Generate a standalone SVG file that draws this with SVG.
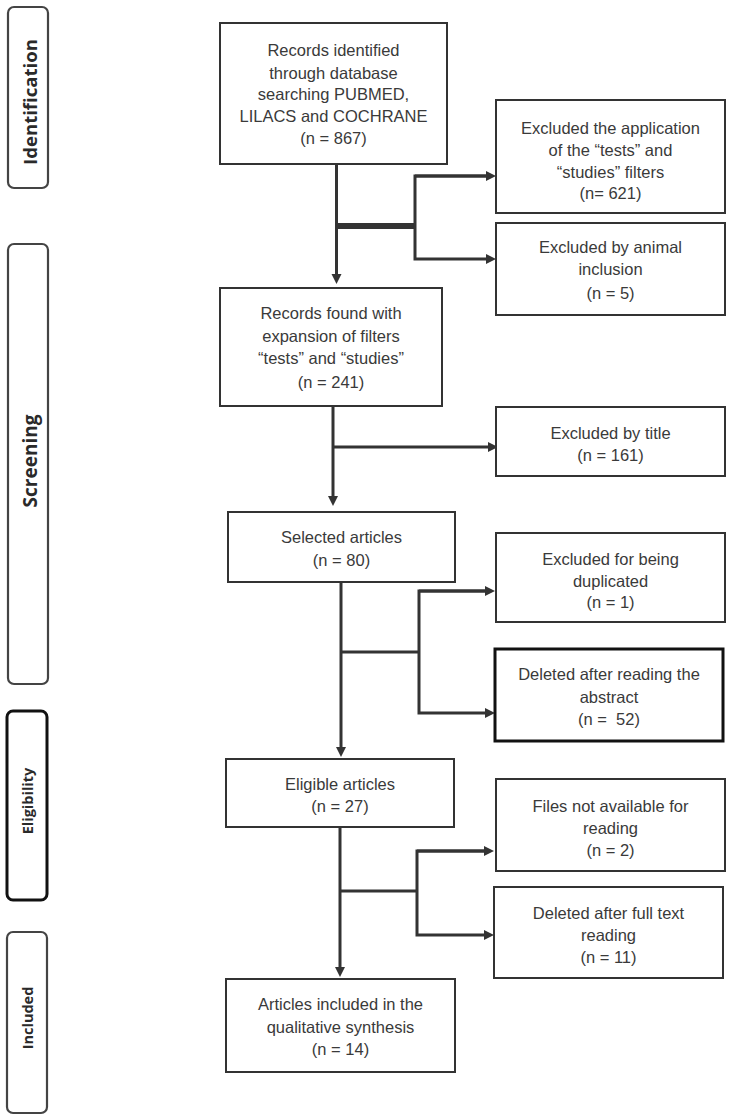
<svg xmlns="http://www.w3.org/2000/svg" width="731" height="1117" viewBox="0 0 731 1117">
<style>
.box{fill:#fff;stroke:#333;stroke-width:2}
.boxk{fill:#fff;stroke:#111;stroke-width:3}
.side{fill:#fff;stroke:#444;stroke-width:2.2}
.sidek{fill:#fff;stroke:#111;stroke-width:3}
.t{font-family:"Liberation Sans",Arial,sans-serif;font-size:16.5px;fill:#3a3a3a;text-anchor:middle}
.lbl{font-family:"Open Sans","Liberation Sans",sans-serif;font-weight:700;fill:#2a2a2a;text-anchor:middle}
.c{fill:none;stroke:#333;stroke-width:3}
</style>
<defs>
<marker id="ah" markerUnits="userSpaceOnUse" markerWidth="11" markerHeight="11" refX="1" refY="5" orient="auto">
<path d="M0,0 L10,5 L0,10 z" fill="#333"/>
</marker>
</defs>
<g id="sidebars">
<g id="side-identification"><rect class="side" x="8" y="7" width="40" height="181" rx="6"/><text class="lbl" font-size="18.6" transform="translate(30,102) rotate(-90)" dy="6.5">Identification</text></g>
<g id="side-screening"><rect class="side" x="8" y="244" width="40" height="440" rx="6"/><text class="lbl" font-size="19" transform="translate(30,461) rotate(-90)" dy="6.5">Screening</text></g>
<g id="side-eligibility"><rect class="sidek" x="7" y="711" width="40" height="189" rx="6"/><text class="lbl" font-size="14.5" transform="translate(28,801) rotate(-90)" dy="5">Eligibility</text></g>
<g id="side-included"><rect class="side" x="7" y="932" width="40" height="181" rx="6"/><text class="lbl" font-size="14.5" transform="translate(28,1018) rotate(-90)" dy="5">Included</text></g>
</g>
<g id="connectors">
<line class="c" x1="336.5" y1="164" x2="336.5" y2="275" marker-end="url(#ah)"/>
<line x1="336.5" y1="226" x2="416" y2="226" stroke="#333" stroke-width="6"/>
<polyline class="c" points="487,176 415,176 415,259 487,259" marker-end="url(#ah)" marker-start="none"/>
<line class="c" x1="415" y1="176" x2="487" y2="176" marker-end="url(#ah)"/>
<line class="c" x1="333" y1="406" x2="333" y2="497" marker-end="url(#ah)"/>
<line class="c" x1="333" y1="447" x2="489" y2="447" marker-end="url(#ah)"/>
<line class="c" x1="341" y1="582" x2="341" y2="748" marker-end="url(#ah)"/>
<line class="c" x1="341" y1="652" x2="419" y2="652"/>
<polyline class="c" points="486,591 419,591 419,713 486,713" marker-end="url(#ah)"/>
<line class="c" x1="419" y1="591" x2="486" y2="591" marker-end="url(#ah)"/>
<line class="c" x1="340" y1="827" x2="340" y2="968" marker-end="url(#ah)"/>
<line class="c" x1="340" y1="891" x2="417" y2="891"/>
<polyline class="c" points="485,851 417,851 417,935 485,935" marker-end="url(#ah)"/>
<line class="c" x1="417" y1="851" x2="485" y2="851" marker-end="url(#ah)"/>
</g>
<g id="n1"><rect class="box" x="220" y="23" width="227" height="141"/>
<text class="t" x="333.5" y="56">Records identified</text>
<text class="t" x="333.5" y="78.5">through database</text>
<text class="t" x="333.5" y="100">searching PUBMED,</text>
<text class="t" x="333.5" y="122">LILACS and COCHRANE</text>
<text class="t" x="333.5" y="144">(n = 867)</text></g>
<g id="nA"><rect class="box" x="496" y="100" width="229" height="113"/>
<text class="t" x="610.5" y="134">Excluded the application</text>
<text class="t" x="610.5" y="156">of the “tests” and</text>
<text class="t" x="610.5" y="178">“studies” filters</text>
<text class="t" x="610.5" y="199">(n= 621)</text></g>
<g id="nB"><rect class="box" x="496" y="223" width="229" height="92"/>
<text class="t" x="610.5" y="253">Excluded by animal</text>
<text class="t" x="610.5" y="275">inclusion</text>
<text class="t" x="610.5" y="298.5">(n = 5)</text></g>
<g id="n2"><rect class="box" x="220" y="288" width="222" height="118"/>
<text class="t" x="331" y="319">Records found with</text>
<text class="t" x="331" y="342">expansion of filters</text>
<text class="t" x="331" y="364">“tests” and “studies”</text>
<text class="t" x="331" y="388">(n = 241)</text></g>
<g id="nC"><rect class="box" x="496" y="407" width="229" height="69"/>
<text class="t" x="610.5" y="439">Excluded by title</text>
<text class="t" x="610.5" y="461">(n = 161)</text></g>
<g id="n3"><rect class="box" x="228" y="512" width="227" height="70"/>
<text class="t" x="341.5" y="543">Selected articles</text>
<text class="t" x="341.5" y="566">(n = 80)</text></g>
<g id="nD"><rect class="box" x="496" y="533" width="229" height="89"/>
<text class="t" x="610.5" y="565">Excluded for being</text>
<text class="t" x="610.5" y="587">duplicated</text>
<text class="t" x="610.5" y="608">(n = 1)</text></g>
<g id="nE"><rect class="boxk" x="495" y="649" width="228" height="92"/>
<text class="t" x="609" y="680">Deleted after reading the</text>
<text class="t" x="609" y="703">abstract</text>
<text class="t" x="609" y="725" xml:space="preserve">(n =  52)</text></g>
<g id="n4"><rect class="box" x="226" y="759" width="228" height="68"/>
<text class="t" x="340" y="790">Eligible articles</text>
<text class="t" x="340" y="812">(n = 27)</text></g>
<g id="nF"><rect class="box" x="496" y="779" width="229" height="92"/>
<text class="t" x="610.5" y="812">Files not available for</text>
<text class="t" x="610.5" y="834">reading</text>
<text class="t" x="610.5" y="856">(n = 2)</text></g>
<g id="nG"><rect class="box" x="494" y="887" width="229" height="91"/>
<text class="t" x="608.5" y="919">Deleted after full text</text>
<text class="t" x="608.5" y="941">reading</text>
<text class="t" x="608.5" y="963">(n = 11)</text></g>
<g id="n5"><rect class="box" x="226" y="979" width="229" height="93"/>
<text class="t" x="340.5" y="1010">Articles included in the</text>
<text class="t" x="340.5" y="1033">qualitative synthesis</text>
<text class="t" x="340.5" y="1055">(n = 14)</text></g>
</svg>
